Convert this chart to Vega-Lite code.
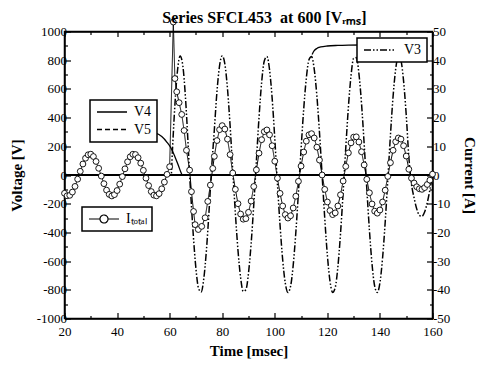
{
"$schema": "https://vega.github.io/schema/vega-lite/v6.json",
"width": 368, "height": 287,
"autosize": {"type": "none"},
"padding": {"left": 64.5, "top": 31.5, "right": 52.5, "bottom": 49.5},
"title": {"text": "Series SFCL453\u00a0 at 600 [Vᵣₘₛ]", "font": "Liberation Serif", "fontSize": 16, "fontWeight": "bold", "color": "black", "offset": -9, "dx": 16},
"datasets": {
"zero": [{"t":20,"v":0,"series":"V4"},{"t":160,"v":0,"series":"V4"},{"t":20,"v":0,"series":"V5"},{"t":160,"v":0,"series":"V5"}],
"arcs": [
{"t":50,"v":297,"seg":"a"},{"t":53,"v":295,"seg":"a"},{"t":55,"v":290,"seg":"a"},{"t":57,"v":268,"seg":"a"},{"t":59,"v":228,"seg":"a"},{"t":60.5,"v":188,"seg":"a"},{"t":62,"v":128,"seg":"a"},{"t":63.3,"v":68,"seg":"a"},{"t":64.2,"v":22,"seg":"a"},{"t":64.7,"v":0,"seg":"a"},
{"t":114.2,"v":840,"seg":"b"},{"t":115,"v":866,"seg":"b"},{"t":116,"v":882,"seg":"b"},{"t":117.5,"v":892,"seg":"b"},{"t":120,"v":899,"seg":"b"},{"t":124,"v":903,"seg":"b"},{"t":128,"v":905,"seg":"b"},{"t":133,"v":906,"seg":"b"},{"t":145,"v":906,"seg":"b"}],
"v3": [
{"t":20,"v":0,"series":"V3"},{"t":60.6,"v":0,"series":"V3"},{"t":61,"v":149,"series":"V3"},{"t":62,"v":488,"series":"V3"},{"t":63,"v":730,"series":"V3"},{"t":64,"v":829,"series":"V3"},{"t":65,"v":763,"series":"V3"},{"t":66,"v":546,"series":"V3"},{"t":67,"v":222,"series":"V3"},{"t":67.6,"v":0,"series":"V3"},{"t":68,"v":-125,"series":"V3"},{"t":69,"v":-419,"series":"V3"},{"t":70,"v":-652,"series":"V3"},{"t":71,"v":-790,"series":"V3"},{"t":72,"v":-815,"series":"V3"},{"t":73,"v":-721,"series":"V3"},{"t":74,"v":-522,"series":"V3"},{"t":75,"v":-248,"series":"V3"},{"t":75.8,"v":0,"series":"V3"},{"t":77,"v":314,"series":"V3"},{"t":78,"v":581,"series":"V3"},{"t":79,"v":762,"series":"V3"},{"t":80,"v":830,"series":"V3"},{"t":81,"v":774,"series":"V3"},{"t":82,"v":603,"series":"V3"},{"t":83,"v":344,"series":"V3"},{"t":84,"v":33,"series":"V3"},{"t":85,"v":-265,"series":"V3"},{"t":86,"v":-525,"series":"V3"},{"t":87,"v":-715,"series":"V3"},{"t":88,"v":-811,"series":"V3"},{"t":89,"v":-800,"series":"V3"},{"t":90,"v":-684,"series":"V3"},{"t":91,"v":-478,"series":"V3"},{"t":92,"v":-208,"series":"V3"},{"t":93,"v":96,"series":"V3"},{"t":94,"v":401,"series":"V3"},{"t":95,"v":646,"series":"V3"},{"t":96,"v":795,"series":"V3"},{"t":97,"v":826,"series":"V3"},{"t":98,"v":735,"series":"V3"},{"t":99,"v":534,"series":"V3"},{"t":100,"v":254,"series":"V3"},{"t":101,"v":-60,"series":"V3"},{"t":102,"v":-348,"series":"V3"},{"t":103,"v":-590,"series":"V3"},{"t":104,"v":-754,"series":"V3"},{"t":105,"v":-819,"series":"V3"},{"t":106,"v":-776,"series":"V3"},{"t":107,"v":-630,"series":"V3"},{"t":108,"v":-402,"series":"V3"},{"t":109,"v":-120,"series":"V3"},{"t":110,"v":180,"series":"V3"},{"t":111,"v":458,"series":"V3"},{"t":112,"v":675,"series":"V3"},{"t":113,"v":803,"series":"V3"},{"t":114,"v":825,"series":"V3"},{"t":115,"v":738,"series":"V3"},{"t":116,"v":554,"series":"V3"},{"t":117,"v":297,"series":"V3"},{"t":118,"v":0,"series":"V3"},{"t":119,"v":-299,"series":"V3"},{"t":120,"v":-558,"series":"V3"},{"t":121,"v":-739,"series":"V3"},{"t":122,"v":-818,"series":"V3"},{"t":123,"v":-784,"series":"V3"},{"t":124,"v":-640,"series":"V3"},{"t":125,"v":-410,"series":"V3"},{"t":126,"v":-122,"series":"V3"},{"t":127,"v":187,"series":"V3"},{"t":128,"v":472,"series":"V3"},{"t":129,"v":691,"series":"V3"},{"t":130,"v":813,"series":"V3"},{"t":131,"v":818,"series":"V3"},{"t":132,"v":708,"series":"V3"},{"t":133,"v":497,"series":"V3"},{"t":134,"v":217,"series":"V3"},{"t":135,"v":-92,"series":"V3"},{"t":136,"v":-383,"series":"V3"},{"t":137,"v":-622,"series":"V3"},{"t":138,"v":-774,"series":"V3"},{"t":139,"v":-819,"series":"V3"},{"t":140,"v":-751,"series":"V3"},{"t":141,"v":-580,"series":"V3"},{"t":142,"v":-329,"series":"V3"},{"t":143,"v":-31,"series":"V3"},{"t":144,"v":277,"series":"V3"},{"t":145,"v":547,"series":"V3"},{"t":146,"v":739,"series":"V3"},{"t":147,"v":827,"series":"V3"},{"t":148,"v":797,"series":"V3"},{"t":149,"v":654,"series":"V3"},{"t":150,"v":420,"series":"V3"},{"t":151,"v":125,"series":"V3"},{"t":152,"v":-63,"series":"V3"},{"t":153,"v":-160,"series":"V3"},{"t":154,"v":-236,"series":"V3"},{"t":155,"v":-281,"series":"V3"},{"t":156,"v":-288,"series":"V3"},{"t":157,"v":-258,"series":"V3"},{"t":158,"v":-193,"series":"V3"},{"t":159,"v":-104,"series":"V3"},{"t":160,"v":0,"series":"V3"}],
"itot": [
{"t":20,"i":-6.37,"series":"Iₜₒₜₐₗ"},{"t":21,"i":-7.24,"series":"Iₜₒₜₐₗ"},{"t":22,"i":-7.09,"series":"Iₜₒₜₐₗ"},{"t":23,"i":-5.95,"series":"Iₜₒₜₐₗ"},{"t":24,"i":-3.98,"series":"Iₜₒₜₐₗ"},{"t":25,"i":-1.45,"series":"Iₜₒₜₐₗ"},{"t":26,"i":1.28,"series":"Iₜₒₜₐₗ"},{"t":27,"i":3.83,"series":"Iₜₒₜₐₗ"},{"t":28,"i":5.85,"series":"Iₜₒₜₐₗ"},{"t":29,"i":7.05,"series":"Iₜₒₜₐₗ"},{"t":30,"i":7.25,"series":"Iₜₒₜₐₗ"},{"t":31,"i":6.44,"series":"Iₜₒₜₐₗ"},{"t":32,"i":4.72,"series":"Iₜₒₜₐₗ"},{"t":33,"i":2.34,"series":"Iₜₒₜₐₗ"},{"t":34,"i":-0.37,"series":"Iₜₒₜₐₗ"},{"t":35,"i":-3.02,"series":"Iₜₒₜₐₗ"},{"t":36,"i":-5.27,"series":"Iₜₒₜₐₗ"},{"t":37,"i":-6.75,"series":"Iₜₒₜₐₗ"},{"t":38,"i":-7.3,"series":"Iₜₒₜₐₗ"},{"t":39,"i":-6.84,"series":"Iₜₒₜₐₗ"},{"t":40,"i":-5.41,"series":"Iₜₒₜₐₗ"},{"t":41,"i":-3.19,"series":"Iₜₒₜₐₗ"},{"t":42,"i":-0.55,"series":"Iₜₒₜₐₗ"},{"t":43,"i":2.15,"series":"Iₜₒₜₐₗ"},{"t":44,"i":4.6,"series":"Iₜₒₜₐₗ"},{"t":45,"i":6.35,"series":"Iₜₒₜₐₗ"},{"t":46,"i":7.23,"series":"Iₜₒₜₐₗ"},{"t":47,"i":7.13,"series":"Iₜₒₜₐₗ"},{"t":48,"i":6.03,"series":"Iₜₒₜₐₗ"},{"t":49,"i":4.12,"series":"Iₜₒₜₐₗ"},{"t":50,"i":1.63,"series":"Iₜₒₜₐₗ"},{"t":51,"i":-1.1,"series":"Iₜₒₜₐₗ"},{"t":52,"i":-3.68,"series":"Iₜₒₜₐₗ"},{"t":53,"i":-5.77,"series":"Iₜₒₜₐₗ"},{"t":54,"i":-7.02,"series":"Iₜₒₜₐₗ"},{"t":55,"i":-7.27,"series":"Iₜₒₜₐₗ"},{"t":56,"i":-6.49,"series":"Iₜₒₜₐₗ"},{"t":57,"i":-4.81,"series":"Iₜₒₜₐₗ"},{"t":58,"i":-2.47,"series":"Iₜₒₜₐₗ"},{"t":59,"i":0.22,"series":"Iₜₒₜₐₗ"},{"t":60,"i":2.89,"series":"Iₜₒₜₐₗ"},{"t":61.4,"i":53.3,"series":"Iₜₒₜₐₗ"},{"t":62,"i":33.6,"series":"Iₜₒₜₐₗ"},{"t":62.7,"i":29,"series":"Iₜₒₜₐₗ"},{"t":63.6,"i":25.2,"series":"Iₜₒₜₐₗ"},{"t":64.6,"i":21.1,"series":"Iₜₒₜₐₗ"},{"t":65.5,"i":15.5,"series":"Iₜₒₜₐₗ"},{"t":66.4,"i":8.6,"series":"Iₜₒₜₐₗ"},{"t":67.6,"i":1.7,"series":"Iₜₒₜₐₗ"},{"t":68.3,"i":-5.8,"series":"Iₜₒₜₐₗ"},{"t":69.1,"i":-12.7,"series":"Iₜₒₜₐₗ"},{"t":69.7,"i":-17.3,"series":"Iₜₒₜₐₗ"},{"t":70.9,"i":-19,"series":"Iₜₒₜₐₗ"},{"t":72.2,"i":-17.9,"series":"Iₜₒₜₐₗ"},{"t":73.5,"i":-14.9,"series":"Iₜₒₜₐₗ"},{"t":74.5,"i":-9.2,"series":"Iₜₒₜₐₗ"},{"t":75.5,"i":-3.5,"series":"Iₜₒₜₐₗ"},{"t":76.4,"i":2.3,"series":"Iₜₒₜₐₗ"},{"t":77,"i":6.5,"series":"Iₜₒₜₐₗ"},{"t":78,"i":12,"series":"Iₜₒₜₐₗ"},{"t":79,"i":15.8,"series":"Iₜₒₜₐₗ"},{"t":80,"i":17.2,"series":"Iₜₒₜₐₗ"},{"t":81,"i":16,"series":"Iₜₒₜₐₗ"},{"t":82,"i":12.5,"series":"Iₜₒₜₐₗ"},{"t":83,"i":7.1,"series":"Iₜₒₜₐₗ"},{"t":84,"i":0.7,"series":"Iₜₒₜₐₗ"},{"t":85,"i":-5,"series":"Iₜₒₜₐₗ"},{"t":86,"i":-10,"series":"Iₜₒₜₐₗ"},{"t":87,"i":-13.6,"series":"Iₜₒₜₐₗ"},{"t":88,"i":-15.4,"series":"Iₜₒₜₐₗ"},{"t":89,"i":-15.2,"series":"Iₜₒₜₐₗ"},{"t":90,"i":-13,"series":"Iₜₒₜₐₗ"},{"t":91,"i":-9.1,"series":"Iₜₒₜₐₗ"},{"t":92,"i":-4,"series":"Iₜₒₜₐₗ"},{"t":93,"i":1.8,"series":"Iₜₒₜₐₗ"},{"t":94,"i":7.6,"series":"Iₜₒₜₐₗ"},{"t":95,"i":12.3,"series":"Iₜₒₜₐₗ"},{"t":96,"i":15.1,"series":"Iₜₒₜₐₗ"},{"t":97,"i":15.7,"series":"Iₜₒₜₐₗ"},{"t":98,"i":14,"series":"Iₜₒₜₐₗ"},{"t":99,"i":10.2,"series":"Iₜₒₜₐₗ"},{"t":100,"i":4.8,"series":"Iₜₒₜₐₗ"},{"t":101,"i":-1.1,"series":"Iₜₒₜₐₗ"},{"t":102,"i":-6.4,"series":"Iₜₒₜₐₗ"},{"t":103,"i":-10.8,"series":"Iₜₒₜₐₗ"},{"t":104,"i":-13.8,"series":"Iₜₒₜₐₗ"},{"t":105,"i":-15,"series":"Iₜₒₜₐₗ"},{"t":106,"i":-14.2,"series":"Iₜₒₜₐₗ"},{"t":107,"i":-11.5,"series":"Iₜₒₜₐₗ"},{"t":108,"i":-7.4,"series":"Iₜₒₜₐₗ"},{"t":109,"i":-2.2,"series":"Iₜₒₜₐₗ"},{"t":110,"i":3.1,"series":"Iₜₒₜₐₗ"},{"t":111,"i":8,"series":"Iₜₒₜₐₗ"},{"t":112,"i":11.8,"series":"Iₜₒₜₐₗ"},{"t":113,"i":14,"series":"Iₜₒₜₐₗ"},{"t":114,"i":14.4,"series":"Iₜₒₜₐₗ"},{"t":115,"i":12.9,"series":"Iₜₒₜₐₗ"},{"t":116,"i":9.7,"series":"Iₜₒₜₐₗ"},{"t":117,"i":5.2,"series":"Iₜₒₜₐₗ"},{"t":118,"i":0,"series":"Iₜₒₜₐₗ"},{"t":119,"i":-5,"series":"Iₜₒₜₐₗ"},{"t":120,"i":-9.4,"series":"Iₜₒₜₐₗ"},{"t":121,"i":-12.4,"series":"Iₜₒₜₐₗ"},{"t":122,"i":-13.8,"series":"Iₜₒₜₐₗ"},{"t":123,"i":-13.2,"series":"Iₜₒₜₐₗ"},{"t":124,"i":-10.8,"series":"Iₜₒₜₐₗ"},{"t":125,"i":-6.9,"series":"Iₜₒₜₐₗ"},{"t":126,"i":-2.1,"series":"Iₜₒₜₐₗ"},{"t":127,"i":3,"series":"Iₜₒₜₐₗ"},{"t":128,"i":7.7,"series":"Iₜₒₜₐₗ"},{"t":129,"i":11.2,"series":"Iₜₒₜₐₗ"},{"t":130,"i":13.2,"series":"Iₜₒₜₐₗ"},{"t":131,"i":13.3,"series":"Iₜₒₜₐₗ"},{"t":132,"i":11.5,"series":"Iₜₒₜₐₗ"},{"t":133,"i":8.1,"series":"Iₜₒₜₐₗ"},{"t":134,"i":3.5,"series":"Iₜₒₜₐₗ"},{"t":135,"i":-1.5,"series":"Iₜₒₜₐₗ"},{"t":136,"i":-6.2,"series":"Iₜₒₜₐₗ"},{"t":137,"i":-10.1,"series":"Iₜₒₜₐₗ"},{"t":138,"i":-12.6,"series":"Iₜₒₜₐₗ"},{"t":139,"i":-13.3,"series":"Iₜₒₜₐₗ"},{"t":140,"i":-12.2,"series":"Iₜₒₜₐₗ"},{"t":141,"i":-9.4,"series":"Iₜₒₜₐₗ"},{"t":142,"i":-5.3,"series":"Iₜₒₜₐₗ"},{"t":143,"i":-0.5,"series":"Iₜₒₜₐₗ"},{"t":144,"i":4.3,"series":"Iₜₒₜₐₗ"},{"t":145,"i":8.6,"series":"Iₜₒₜₐₗ"},{"t":146,"i":11.6,"series":"Iₜₒₜₐₗ"},{"t":147,"i":12.9,"series":"Iₜₒₜₐₗ"},{"t":148,"i":12.5,"series":"Iₜₒₜₐₗ"},{"t":149,"i":10.2,"series":"Iₜₒₜₐₗ"},{"t":150,"i":6.6,"series":"Iₜₒₜₐₗ"},{"t":151,"i":2,"series":"Iₜₒₜₐₗ"},{"t":152,"i":-1.1,"series":"Iₜₒₜₐₗ"},{"t":153,"i":-2.8,"series":"Iₜₒₜₐₗ"},{"t":154,"i":-4.1,"series":"Iₜₒₜₐₗ"},{"t":155,"i":-4.8,"series":"Iₜₒₜₐₗ"},{"t":156,"i":-5,"series":"Iₜₒₜₐₗ"},{"t":157,"i":-4.4,"series":"Iₜₒₜₐₗ"},{"t":158,"i":-3.3,"series":"Iₜₒₜₐₗ"},{"t":159,"i":-1.8,"series":"Iₜₒₜₐₗ"},{"t":160,"i":0.3,"series":"Iₜₒₜₐₗ"}]
},
"layer": [
{
"encoding": {
"x": {"field": "t", "type": "quantitative", "scale": {"domain": [20, 160], "nice": false, "zero": false},
 "axis": {"orient": "bottom", "values": [20,30,40,50,60,70,80,90,100,110,120,130,140,150,160], "labelExpr": "datum.value % 20 === 0 ? '' + datum.value : ''", "tickSize": {"condition": {"test": "datum.value % 20 === 0", "value": -6}, "value": -3}, "labelPadding": 13, "labelFlush": false, "labelOverlap": false, "title": "Time [msec]", "titlePadding": 2}},
"y": {"field": "v", "type": "quantitative", "scale": {"domain": [-1000, 1000], "nice": false},
 "axis": {"orient": "left", "values": [-1000,-900,-800,-700,-600,-500,-400,-300,-200,-100,0,100,200,300,400,500,600,700,800,900,1000], "labelExpr": "datum.value % 200 === 0 ? '' + datum.value : ''", "tickSize": {"condition": {"test": "datum.value % 200 === 0", "value": -6}, "value": -3}, "labelPadding": 4, "labelOverlap": false, "labelFlush": false, "title": "Voltage [V]", "titlePadding": 12}}
},
"layer": [
{"data": {"name": "zero"}, "mark": {"type": "line", "color": "black", "strokeWidth": 2},
 "encoding": {"strokeDash": {"field": "series", "type": "nominal", "scale": {"domain": ["V4", "V5"], "range": [[1, 0], [5, 3]]},
  "legend": {"title": null, "orient": "none", "legendX": 25.5, "legendY": 68.5, "padding": 5, "rowPadding": 3.5, "symbolType": "M-3,0L3,0", "symbolSize": 100, "symbolOffset": 10, "labelOffset": 15, "symbolStrokeWidth": 1.5}}}},
{"data": {"name": "arcs"}, "mark": {"type": "line", "color": "black", "strokeWidth": 1.3, "interpolate": "monotone"},
 "encoding": {"detail": {"field": "seg", "type": "nominal"}}},
{"data": {"name": "v3"}, "mark": {"type": "line", "color": "black", "strokeWidth": 1.5, "interpolate": "monotone"},
 "encoding": {"strokeDash": {"field": "series", "type": "nominal", "scale": {"domain": ["V3"], "range": [[7, 2, 1.5, 2, 1.5, 2]]},
  "legend": {"title": null, "orient": "none", "legendX": 292.5, "legendY": 6.5, "padding": 5, "symbolType": "M-3,0L3,0", "symbolSize": 100, "symbolOffset": 10, "labelOffset": 18, "symbolStrokeWidth": 1.5}}}}
],
"resolve": {"scale": {"strokeDash": "independent"}}
},
{
"encoding": {
"x": {"field": "t", "type": "quantitative", "scale": {"domain": [20, 160], "nice": false, "zero": false},
 "axis": {"orient": "top", "values": [20,30,40,50,60,70,80,90,100,110,120,130,140,150,160], "labels": false, "tickSize": {"condition": {"test": "datum.value % 20 === 0", "value": -5}, "value": -3}, "title": null}},
"y": {"field": "i", "type": "quantitative", "scale": {"domain": [-50, 50], "nice": false},
 "axis": {"orient": "right", "values": [-50,-45,-40,-35,-30,-25,-20,-15,-10,-5,0,5,10,15,20,25,30,35,40,45,50], "labelExpr": "datum.value % 10 === 0 ? '' + datum.value : ''", "tickSize": {"condition": {"test": "datum.value % 10 === 0", "value": -6}, "value": -3}, "labelPadding": 6, "labelOverlap": false, "labelFlush": false, "title": "Current [A]", "titlePadding": 12}}
},
"layer": [
{"data": {"name": "itot"}, "mark": {"type": "line", "color": "black", "strokeWidth": 1},
 "encoding": {"strokeDash": {"field": "series", "type": "nominal", "scale": {"domain": ["Iₜₒₜₐₗ"], "range": [[1, 0]]},
  "legend": {"title": null, "orient": "none", "legendX": 17.5, "legendY": 175.5, "padding": 5, "symbolType": "M-3,0L-0.8,0M0.8,0L3,0M0.8,0A0.8,0.8,0,1,1,-0.8,0A0.8,0.8,0,1,1,0.8,0", "symbolSize": 100, "symbolOffset": 10, "labelOffset": 15, "symbolStrokeWidth": 1.2, "symbolStrokeColor": "black"}}}},
{"data": {"name": "itot"}, "mark": {"type": "point", "shape": "circle", "filled": true, "fill": "white", "stroke": "black", "strokeWidth": 0.9, "size": 34, "opacity": 1}}
]
}
],
"resolve": {"scale": {"y": "independent"}, "axis": {"x": "independent"}},
"config": {
"background": "white",
"view": {"stroke": "black", "strokeWidth": 1.5},
"axis": {"domainColor": "black", "domainWidth": 1.5, "tickColor": "black", "tickWidth": 1.2, "labelColor": "black", "titleColor": "black", "labelFont": "Liberation Serif", "labelFontSize": 13, "titleFont": "Liberation Serif", "titleFontSize": 15, "titleFontWeight": "bold", "grid": false},
"legend": {"fillColor": "white", "strokeColor": "black", "strokeWidth": 1.5, "labelFont": "Liberation Serif", "labelFontSize": 14, "labelColor": "black", "symbolStrokeColor": "black", "cornerRadius": 0}
}
}
